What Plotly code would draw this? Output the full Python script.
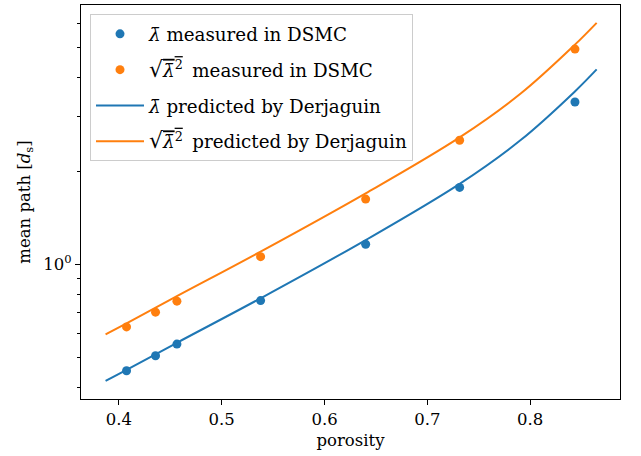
import plotly.graph_objects as go

# DSMC measurements
porosity_dsmc = [0.4074, 0.4356, 0.4564, 0.5378, 0.6400, 0.7314, 0.8436]
mean_dsmc = [0.454, 0.5075, 0.5535, 0.7646, 1.162, 1.773, 3.344]
rms_dsmc = [0.629, 0.7016, 0.7614, 1.0595, 1.625, 2.517, 4.953]

# Derjaguin prediction, sampled along the curve
porosity_pred = [0.387, 0.4074, 0.4564, 0.5378, 0.640, 0.7314, 0.7908, 0.8433, 0.8647]
mean_pred = [0.421, 0.457, 0.559, 0.778, 1.199, 1.82, 2.52, 3.61, 4.26]
rms_pred = [0.595, 0.646, 0.790, 1.100, 1.696, 2.57, 3.56, 5.11, 6.02]

x_ticks = [0.4, 0.5, 0.6, 0.7, 0.8]
y_major = [1]
y_major_text = ["10<sup>0</sup>"]
y_minor = [0.4, 0.5, 0.6, 0.7, 0.8, 0.9, 2, 3, 4, 5, 6]

BLUE = "#1f77b4"
ORANGE = "#ff7f0e"
FONT = "DejaVu Serif"
FS = 16.5
LEG_FS = 18.3

LAM = "<i>λ̄</i>"
SQRT = ("<span style='font-size:22px'>√</span>"
        "<span style='text-decoration:overline'><i>λ̄</i><sup>2</sup></span>\u2009")

fig = go.Figure()
fig.add_trace(go.Scatter(x=porosity_dsmc, y=mean_dsmc, mode="markers",
                         marker=dict(color=BLUE, size=9),
                         name=f"{LAM} measured in DSMC", legendgroup="a"))
fig.add_trace(go.Scatter(x=porosity_dsmc, y=rms_dsmc, mode="markers",
                         marker=dict(color=ORANGE, size=9),
                         name=f"{SQRT} measured in DSMC", legendgroup="b"))
fig.add_trace(go.Scatter(x=porosity_pred, y=mean_pred, mode="lines",
                         line=dict(color=BLUE, width=2, shape="spline"),
                         name=f"{LAM} predicted by Derjaguin", legendgroup="c"))
fig.add_trace(go.Scatter(x=porosity_pred, y=rms_pred, mode="lines",
                         line=dict(color=ORANGE, width=2, shape="spline"),
                         name=f"{SQRT} predicted by Derjaguin", legendgroup="d"))

axis_common = dict(showline=True, linecolor="black", linewidth=1.1, mirror=True,
                   ticks="outside", ticklen=5, tickwidth=1.1, tickcolor="black",
                   showgrid=False, zeroline=False,
                   tickfont=dict(family=FONT, size=FS, color="black"))

fig.update_xaxes(range=[0.3631, 0.8874], tickvals=x_ticks,
                 ticktext=[f"{v:.1f}" for v in x_ticks],
                 title=dict(text="porosity", font=dict(family=FONT, size=FS, color="black"),
                            standoff=6),
                 **axis_common)
fig.update_yaxes(type="log", range=[-0.434, 0.8371], tickvals=y_major, ticktext=y_major_text,
                 minor=dict(tickvals=y_minor, ticks="outside", ticklen=3, tickwidth=0.9,
                            tickcolor="black", showgrid=False),
                 title=dict(text="mean path [<i>d</i><sub>s</sub>]",
                            font=dict(family=FONT, size=FS, color="black"), standoff=8),
                 **axis_common)

fig.update_layout(
    width=641, height=456,
    margin=dict(l=81, r=21, t=5, b=57),
    paper_bgcolor="white", plot_bgcolor="white",
    font=dict(family=FONT, size=FS, color="black"),
    legend=dict(x=0.0167, y=0.976, xanchor="left", yanchor="top",
                bgcolor="rgba(255,255,255,0.8)", bordercolor="#cccccc", borderwidth=1,
                itemwidth=48, tracegroupgap=9,
                font=dict(family=FONT, size=LEG_FS, color="black")),
)

fig.write_html("out.html")
